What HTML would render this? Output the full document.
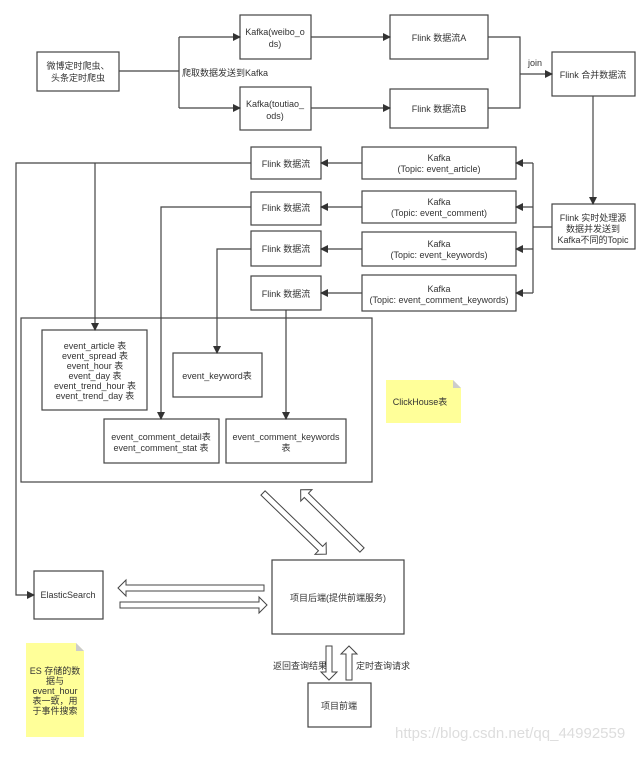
<!DOCTYPE html>
<html><head><meta charset="utf-8"><style>
html,body{margin:0;padding:0;background:#fff;}
svg text{font-family:"Liberation Sans","Noto Sans CJK SC",sans-serif;font-size:9px;fill:#333;}
</style></head><body>
<svg width="643" height="753" viewBox="0 0 643 753" xmlns="http://www.w3.org/2000/svg">
<defs>
<marker id="a" markerWidth="8" markerHeight="8" refX="7" refY="4" orient="auto" markerUnits="userSpaceOnUse">
<path d="M0,0 L8,4 L0,8 Z" fill="#333"/></marker>
</defs>
<g fill="#fff" stroke="#444" stroke-width="1.2">
<rect x="37" y="52" width="82" height="39"/>
<rect x="240" y="15" width="71" height="44"/>
<rect x="240" y="87" width="71" height="43"/>
<rect x="390" y="15" width="98" height="44"/>
<rect x="390" y="89" width="98" height="39"/>
<rect x="552" y="52" width="83" height="44"/>
<rect x="552" y="204" width="83" height="45"/>
<rect x="362" y="147" width="154" height="32"/>
<rect x="362" y="191" width="154" height="32"/>
<rect x="362" y="232" width="154" height="34"/>
<rect x="362" y="275" width="154" height="36"/>
<rect x="251" y="147" width="70" height="32"/>
<rect x="251" y="192" width="70" height="33"/>
<rect x="251" y="231" width="70" height="35"/>
<rect x="251" y="276" width="70" height="34"/>
<rect x="21" y="318" width="351" height="164"/>
<rect x="42" y="330" width="105" height="80"/>
<rect x="173" y="353" width="89" height="44"/>
<rect x="104" y="419" width="115" height="44"/>
<rect x="226" y="419" width="120" height="44"/>
<rect x="34" y="571" width="69" height="48"/>
<rect x="272" y="560" width="132" height="74"/>
<rect x="308" y="683" width="63" height="44"/>
</g>
<!-- notes -->
<path d="M386,380 H453 L461,388 V423 H386 Z" fill="#ffff99"/>
<path d="M453,380 L461,388 H453 Z" fill="#ccc"/>
<path d="M26,643 H76 L84,651 V737 H26 Z" fill="#ffff99"/>
<path d="M76,643 L84,651 H76 Z" fill="#ccc"/>
<!-- connectors -->
<g fill="none" stroke="#444" stroke-width="1.2">
<path d="M119,71 H179"/>
<path d="M179,37 V108"/>
<path d="M179,37 H240" marker-end="url(#a)"/>
<path d="M179,108 H240" marker-end="url(#a)"/>
<path d="M311,37 H390" marker-end="url(#a)"/>
<path d="M311,108 H390" marker-end="url(#a)"/>
<path d="M488,37 H520 V108 H488"/>
<path d="M520,74 H552" marker-end="url(#a)"/>
<path d="M593,96 V204" marker-end="url(#a)"/>
<path d="M552,227 H533"/>
<path d="M533,163 V293"/>
<path d="M533,163 H516" marker-end="url(#a)"/>
<path d="M533,207 H516" marker-end="url(#a)"/>
<path d="M533,249 H516" marker-end="url(#a)"/>
<path d="M533,293 H516" marker-end="url(#a)"/>
<path d="M362,163 H321" marker-end="url(#a)"/>
<path d="M362,207 H321" marker-end="url(#a)"/>
<path d="M362,249 H321" marker-end="url(#a)"/>
<path d="M362,293 H321" marker-end="url(#a)"/>
<path d="M251,163 H16 V595 H34" marker-end="url(#a)"/>
<path d="M95,163 V330" marker-end="url(#a)"/>
<path d="M251,207 H161 V419" marker-end="url(#a)"/>
<path d="M251,249 H217 V353" marker-end="url(#a)"/>
<path d="M286,310 V419" marker-end="url(#a)"/>
</g>
<!-- hollow arrows -->
<g fill="#fff" stroke="#444" stroke-width="1">
<polygon points="118,588 126,580 126,585 264,585 264,591 126,591 126,596"/>
<polygon points="267,605 259,597 259,602 120,602 120,608 259,608 259,613"/>
<polygon transform="translate(263,493) rotate(44)" points="0,-3 80,-3 80,-8 88,0 80,8 80,3 0,3"/>
<polygon transform="translate(362,550) rotate(224.5)" points="0,-3 78,-3 78,-8 86,0 78,8 78,3 0,3"/>
<polygon points="326,646 332,646 332,672 337,672 329,680 321,672 326,672"/>
<polygon points="346,680 352,680 352,654 357,654 349,646 341,654 346,654"/>
</g>
<!-- text -->
<g text-anchor="middle">
<text x="78" y="69">微博定时爬虫、</text><text x="78" y="81">头条定时爬虫</text>
<text x="275" y="35">Kafka(weibo_o</text><text x="275" y="47">ds)</text>
<text x="275" y="107">Kafka(toutiao_</text><text x="275" y="119">ods)</text>
<text x="439" y="41">Flink 数据流A</text>
<text x="439" y="112">Flink 数据流B</text>
<text x="593" y="78">Flink 合并数据流</text>
<text x="593" y="221">Flink 实时处理源</text><text x="593" y="232">数据并发送到</text><text x="593" y="243">Kafka不同的Topic</text>
<text x="439" y="161">Kafka</text><text x="439" y="172">(Topic: event_article)</text>
<text x="439" y="205">Kafka</text><text x="439" y="216">(Topic: event_comment)</text>
<text x="439" y="247">Kafka</text><text x="439" y="258">(Topic: event_keywords)</text>
<text x="439" y="292">Kafka</text><text x="439" y="303">(Topic: event_comment_keywords)</text>
<text x="286" y="167">Flink 数据流</text>
<text x="286" y="211">Flink 数据流</text>
<text x="286" y="252">Flink 数据流</text>
<text x="286" y="297">Flink 数据流</text>
<text x="95" y="349">event_article 表</text>
<text x="95" y="359">event_spread 表</text>
<text x="95" y="369">event_hour 表</text>
<text x="95" y="379">event_day 表</text>
<text x="95" y="389">event_trend_hour 表</text>
<text x="95" y="399">event_trend_day 表</text>
<text x="217" y="379">event_keyword表</text>
<text x="161" y="440">event_comment_detail表</text><text x="161" y="451">event_comment_stat 表</text>
<text x="286" y="440">event_comment_keywords</text><text x="286" y="451">表</text>
<text x="420" y="405">ClickHouse表</text>
<text x="68" y="598">ElasticSearch</text>
<text x="338" y="601">项目后端(提供前端服务)</text>
<text x="339" y="709">项目前端</text>
<text x="55" y="674">ES 存储的数</text><text x="55" y="684">据与</text><text x="55" y="694">event_hour</text><text x="55" y="704">表一致，用</text><text x="55" y="714">于事件搜索</text>
</g>
<text x="182" y="76">爬取数据发送到Kafka</text>
<text x="528" y="66">join</text>
<text x="273" y="669">返回查询结果</text>
<text x="356" y="669">定时查询请求</text>
<text x="395" y="738" style="font-size:15px;fill:#ddd">https://blog.csdn.net/qq_44992559</text>
</svg>
</body></html>
